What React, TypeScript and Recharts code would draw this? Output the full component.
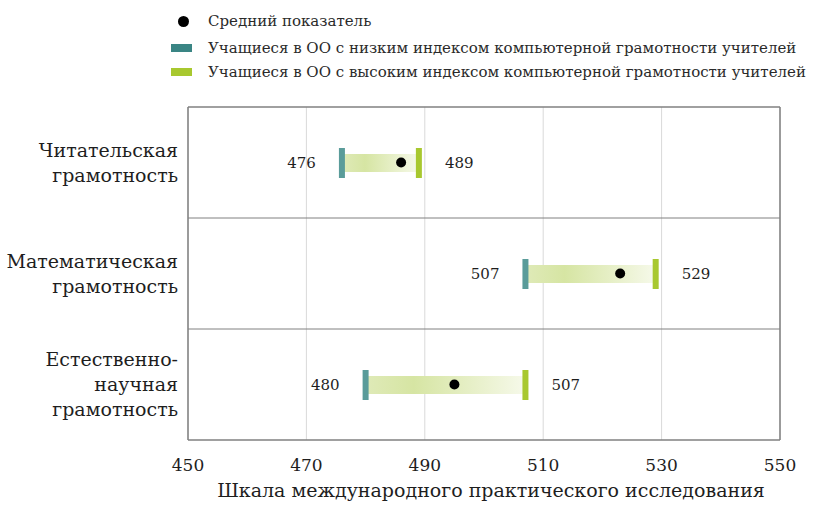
import React from 'react';
import {
  ComposedChart,
  Bar,
  Scatter,
  XAxis,
  YAxis,
  CartesianGrid,
  ReferenceLine,
  Legend,
  Label,
} from 'recharts';

const categories = ['Читательская грамотность', 'Математическая грамотность', 'Естественно-научная грамотность'];
const categoryLines = [
  ['Читательская', 'грамотность'],
  ['Математическая', 'грамотность'],
  ['Естественно-', 'научная', 'грамотность'],
];
const lowValues = [476, 507, 480];
const highValues = [489, 529, 507];
const meanValues = [486, 523, 495];
const xTicks = [450, 470, 490, 510, 530, 550];
const xDomain = [450, 550];

const legendLabels = [
  'Средний показатель',
  'Учащиеся в ОО с низким индексом компьютерной грамотности учителей',
  'Учащиеся в ОО с высоким индексом компьютерной грамотности учителей',
];
const axisTitle = 'Шкала международного практического исследования';

const data = categories.map((name, i) => ({
  name,
  low: lowValues[i],
  high: highValues[i],
  mean: meanValues[i],
  range: [lowValues[i], highValues[i]],
}));

const FONT = '"DejaVu Serif", serif';
const TEAL = '#5a9c9a';
const GREEN = '#a8c82f';
const TEXT = '#1e1e1e';
const BORDER = '#808080';

const RangeShape = (props: any) => {
  const { x, y, width, height, payload } = props;
  const cy = y + height / 2;
  const mh = 30;
  const mw = 6;
  return (
    <g>
      <rect x={x} y={y} width={width} height={height} fill="url(#rangeGrad)" />
      <rect x={x - mw / 2} y={cy - mh / 2} width={mw} height={mh} fill={TEAL} />
      <rect x={x + width - mw / 2} y={cy - mh / 2} width={mw} height={mh} fill={GREEN} />
      <text x={x - 26} y={cy} dy="0.36em" textAnchor="end" fontFamily={FONT} fontSize={15} fill={TEXT}>
        {payload.low}
      </text>
      <text x={x + width + 26} y={cy} dy="0.36em" textAnchor="start" fontFamily={FONT} fontSize={15} fill={TEXT}>
        {payload.high}
      </text>
    </g>
  );
};

const MeanDot = (props: any) => {
  const { cx, cy } = props;
  return <circle cx={cx} cy={cy} r={5} fill="#000" />;
};

const XTick = (props: any) => {
  const { x, y, payload } = props;
  return (
    <text x={x} y={y + 23} textAnchor="middle" fontFamily={FONT} fontSize={17} fill={TEXT}>
      {payload.value}
    </text>
  );
};

const YTick = (props: any) => {
  const { x, y, payload, index } = props;
  const lines: string[] = categoryLines[index] ?? [String(payload.value)];
  const lh = 25;
  const n = lines.length;
  return (
    <text x={x - 2} y={y} textAnchor="end" fontFamily={FONT} fontSize={19} fill={TEXT}>
      {lines.map((l, i) => (
        <tspan key={i} x={x - 2} y={y + (i - (n - 1) / 2) * lh} dy="0.36em">
          {l}
        </tspan>
      ))}
    </text>
  );
};

const LegendContent = () => {
  const textStyle: React.CSSProperties = {
    position: 'absolute',
    left: 208,
    fontFamily: FONT,
    fontSize: 15,
    color: '#2a2a2a',
    whiteSpace: 'nowrap',
    lineHeight: '20px',
  };
  return (
    <div style={{ position: 'relative', width: 819, height: 90 }}>
      <div style={{ position: 'absolute', left: 178, top: 16, width: 11, height: 11, borderRadius: '50%', background: '#000' }} />
      <div style={{ ...textStyle, top: 11 }}>{legendLabels[0]}</div>
      <div style={{ position: 'absolute', left: 171, top: 44, width: 21, height: 8, background: '#3a8584' }} />
      <div style={{ ...textStyle, top: 38 }}>{legendLabels[1]}</div>
      <div style={{ position: 'absolute', left: 171, top: 68, width: 21, height: 8, background: GREEN }} />
      <div style={{ ...textStyle, top: 62 }}>{legendLabels[2]}</div>
    </div>
  );
};

export default function App() {
  return (
    <div style={{ position: 'absolute', left: 0, top: 0, width: 819, height: 505, background: '#fff' }}>
      <ComposedChart
        width={819}
        height={505}
        data={data}
        layout="vertical"
        margin={{ top: 107, right: 39, bottom: 0, left: 0 }}
        barCategoryGap={0}
      >
        <defs>
          <linearGradient id="rangeGrad" x1="0" y1="0" x2="1" y2="0">
            <stop offset="0%" stopColor="#dfeab8" />
            <stop offset="30%" stopColor="#d6e5a3" />
            <stop offset="65%" stopColor="#e6efc6" />
            <stop offset="100%" stopColor="#f6f9ea" />
          </linearGradient>
        </defs>
        <CartesianGrid horizontal={false} vertical stroke="#d9d9d9" strokeWidth={1} />
        <XAxis
          type="number"
          domain={xDomain}
          ticks={xTicks}
          axisLine={false}
          tickLine={false}
          tick={<XTick />}
          height={65}
          interval={0}
        >
          <Label value={axisTitle} position="insideBottom" offset={8} dx={7} fontFamily={FONT} fontSize={19} fill={TEXT} />
        </XAxis>
        <YAxis
          type="category"
          dataKey="name"
          width={188}
          axisLine={false}
          tickLine={false}
          tick={<YTick />}
          interval={0}
        />
        {categories.slice(0, -1).map((c) => (
          <ReferenceLine key={c} y={c} position="end" stroke={BORDER} strokeWidth={1} />
        ))}
        <ReferenceLine y={categories[0]} position="start" stroke={BORDER} strokeWidth={1.5} />
        <ReferenceLine y={categories[categories.length - 1]} position="end" stroke={BORDER} strokeWidth={1.5} />
        <ReferenceLine x={xDomain[0]} stroke={BORDER} strokeWidth={1.5} />
        <ReferenceLine x={xDomain[1]} stroke={BORDER} strokeWidth={1.5} />
        <Legend
          layout="vertical"
          align="center"
          verticalAlign="middle"
          wrapperStyle={{ top: 0, left: 0, width: 819, height: 90 }}
          content={<LegendContent />}
        />
        <Bar dataKey="range" barSize={18} shape={<RangeShape />} isAnimationActive={false} />
        <Scatter dataKey="mean" shape={<MeanDot />} isAnimationActive={false} />
      </ComposedChart>
    </div>
  );
}
